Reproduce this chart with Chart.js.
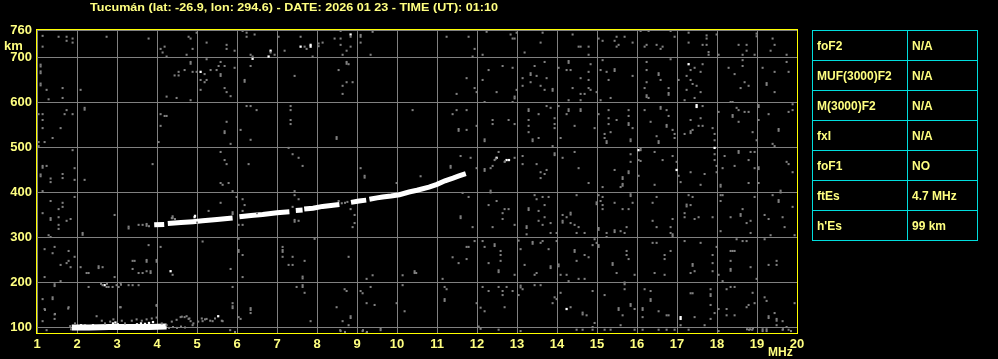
<!DOCTYPE html>
<html>
<head>
<meta charset="utf-8">
<script src="https://cdn.jsdelivr.net/npm/chart.js@4.4.1/dist/chart.umd.min.js"></script>
<style>
  html, body { margin:0; padding:0; background:#000; }
  body { width:998px; height:359px; position:relative; overflow:hidden; font-family:"Liberation Sans", Arial, sans-serif; font-weight:bold; color:#FFFF80; }
  #chart { position:absolute; left:0; top:0; }
  .lbl { position:absolute; white-space:nowrap; }
  #title { left:90px; top:1.5px; font-size:11px; line-height:11px; transform-origin:left top; }
  #km { left:4px; top:38.5px; font-size:13px; line-height:13px; }
  #mhz { left:768px; top:346px; font-size:12px; line-height:12px; }
  #params { position:absolute; left:812px; top:30px; border-collapse:collapse; font-size:12px; }
  #params td { border:1px solid #00DDDD; height:29px; padding:0 0 0 4px; vertical-align:middle; }
  #params td.k { width:90px; }
  #params td.v { width:65px; }
</style>
</head>
<body>
<canvas id="chart" width="998" height="359"></canvas>
<div class="lbl" id="title">Tucumán (lat: -26.9, lon: 294.6) - DATE: 2026 01 23 - TIME (UT): 01:10</div>
<div class="lbl" id="km">km</div>
<div class="lbl" id="mhz">MHz</div>
<table id="params"></table>
<script>
// ── DATA ──────────────────────────────────────────────
var xTicks = [1,2,3,4,5,6,7,8,9,10,11,12,13,14,15,16,17,18,19,20];
var yTicks = [100,200,300,400,500,600,700,760];

var paramNames  = ['foF2','MUF(3000)F2','M(3000)F2','fxI','foF1','ftEs',"h'Es"];
var paramValues = ['N/A','N/A','N/A','N/A','NO','4.7 MHz','99 km'];

// F-layer trace (freq MHz, virtual height km), null = gap
var fTrace = [
  [3.93,327],[4.18,328],[4.22,null],[4.27,330],[4.6,332],[4.9,334],[5.14,336],[5.5,339],[5.89,342],[5.95,null],
  [6.06,345],[6.35,348],[6.64,350],[7.0,354],[7.31,356],[7.38,null],[7.47,359],[7.64,360],[7.66,null],
  [7.68,362],[7.9,364],[8.14,368],[8.35,370],[8.56,372],[8.7,null],[8.85,377],[9.05,380],[9.23,382],[9.27,null],
  [9.31,384],[9.5,387],[9.64,389],[9.85,391],[10.06,394],[10.3,400],[10.5,404],[10.8,411],[11.0,417],
  [11.2,425],[11.4,431],[11.55,436],[11.72,441]
];

// sporadic E trace
var esTrace = [[1.87,99],[2.3,99],[2.8,100],[3.3,100],[3.8,100],[4.24,101]];

// strong echoes outside the traces
var whiteDots = [
  [6.84,714],[6.79,701],[6.39,696],[7.59,723],[7.84,727],[7.84,723],[8.84,750],[5.09,667],[17.29,684],
  [17.49,593],[17.49,589],[4.94,344],[4.95,347],[4.34,224],[2.69,193],[5.53,124],[12.49,476],[12.74,471],
  [12.8,471],[14.24,140],[16.04,493],[16.99,449],[17.94,498],[17.09,122],[17.09,118],[11.3,428],
  [2.1,104],[2.2,103],[2.4,104],[2.9,108],[2.96,110],[3.02,106],[3.5,106],[3.6,108],[3.7,107],
  [3.8,109],[3.9,111],[4.1,104],[4.2,104]
];

// weak echoes / noise
var greyDots = [
  [1.14,747],[1.14,723],[1.54,745],[1.74,745],[1.74,736],[1.89,741],[1.89,732],[2.74,745],[3.79,741],[4.79,745],
  [4.84,741],[4.99,754],[5.24,732],[5.74,727],[5.74,718],[5.94,714],[4.09,718],[4.19,723],[4.14,710],[4.24,701],
  [4.89,718],[4.74,705],[6.14,758],[6.24,754],[6.24,745],[6.44,750],[6.34,705],[6.39,701],[7.04,745],[6.84,710],
  [6.94,705],[7.19,714],[7.59,745],[7.69,723],[7.74,718],[8.04,730],[8.04,724],[8.14,732],[7.89,701],[8.44,741],
  [8.59,741],[8.59,727],[8.84,745],[8.84,723],[8.74,714],[8.64,705],[9.09,749],[9.09,745],[9.09,732],[9.39,756],
  [9.34,705],[8.59,758],
  [1.09,683],[1.09,679],[1.09,668],[1.09,664],[1.09,641],[1.09,637],[1.0,692],[1.24,627],[1.64,631],[1.64,609],
  [2.09,627],[1.29,606],[4.24,612],[4.49,609],[4.84,689],[4.84,685],[4.84,604],[4.99,667],[4.89,667],[4.69,671],
  [4.54,667],[4.44,659],[4.54,659],[5.19,662],[5.09,649],[5.24,649],[5.19,644],[5.09,627],[5.34,671],[5.49,671],
  [5.54,680],[5.59,689],[5.69,680],[5.59,662],[5.59,658],[5.94,676],[5.69,631],[5.74,622],[5.84,613],[6.19,649],
  [6.19,645],[6.34,680],[7.44,658],[8.74,689],[8.74,685],[8.79,684],[8.54,671],[8.74,644],[8.89,644],[8.64,636],
  [8.64,618],[5.24,695],
  [1.04,573],[1.14,573],[1.14,560],[1.14,542],[1.59,542],[1.74,582],[1.69,573],[1.89,573],[2.19,587],[2.19,583],
  [1.39,520],[1.19,511],[1.04,511],[1.04,502],[4.09,573],[4.19,569],[4.24,569],[4.09,547],[4.04,511],[6.24,591],
  [6.34,591],[6.49,582],[5.74,556],[5.69,535],[5.69,531],[5.84,507],[6.09,538],[6.34,516],[7.34,591],[7.34,582],
  [7.34,560],[7.34,551],[8.49,522],[8.49,518],[10.39,582],
  [1.89,493],[1.14,458],[1.14,454],[1.24,458],[1.09,439],[1.09,435],[1.34,430],[1.34,422],[1.64,440],[1.64,431],
  [1.94,453],[1.94,427],[2.19,427],[3.89,462],[5.59,489],[5.69,471],[5.74,462],[6.29,462],[7.29,498],[7.39,484],
  [7.54,476],[7.64,458],[9.09,453],[9.19,436],[9.19,432],
  [11.24,745],[11.79,745],[11.94,718],[11.89,701],[12.24,756],[12.14,705],[12.84,750],[12.89,741],[12.94,741],[12.99,754],
  [13.19,710],[13.64,754],[13.59,732],[14.39,750],[14.54,723],[14.59,723],[14.79,723],[14.79,705],[15.04,741],[15.14,736],
  [15.49,745],[15.44,736],[15.54,727],[15.49,723],[15.69,745],[15.89,732],[16.09,758],[16.29,758],[16.24,727],[16.19,723],
  [16.49,727],[16.59,718],[16.64,723],[16.84,758],[16.94,745],[17.29,754],[17.29,732],[17.64,727],[17.74,727],[17.74,748],
  [17.74,741],[17.79,711],[17.79,705],[17.99,750],[18.04,705],[18.54,727],[18.74,727],[18.74,714],[18.64,705],[18.94,705],
  [18.99,752],[18.99,746],[19.39,741],[19.44,727],[19.34,714],[19.74,705],
  [11.74,653],[11.49,618],[11.94,631],[11.99,622],[12.14,649],[12.29,671],[12.49,622],[12.64,680],[12.89,676],[12.94,612],
  [12.94,608],[12.89,600],[12.19,600],[12.99,627],[13.14,653],[13.14,636],[13.34,664],[13.34,660],[13.34,644],[13.44,680],
  [13.49,658],[13.59,636],[13.69,627],[13.74,653],[13.69,689],[13.89,629],[13.89,625],[14.04,676],[14.24,671],[14.34,671],
  [14.29,691],[14.29,687],[14.39,631],[14.59,653],[14.59,618],[14.29,604],[14.59,604],[14.79,667],[14.84,684],[14.79,649],
  [14.84,627],[14.79,631],[14.69,618],[14.99,622],[15.09,671],[15.24,667],[15.44,673],[15.44,669],[15.29,649],[15.14,693],
  [15.09,604],[15.34,609],[15.89,658],[16.24,689],[16.24,671],[16.24,644],[16.19,631],[16.24,615],[16.24,611],[16.29,609],
  [16.54,664],[16.54,660],[16.59,649],[16.79,631],[16.79,620],[16.79,616],[16.84,695],[17.04,649],[17.34,671],[17.44,676],
  [17.24,658],[17.34,649],[17.39,640],[17.24,627],[17.49,636],[17.59,622],[17.19,604],[17.44,609],[17.64,684],[17.59,667],
  [18.29,676],[18.44,662],[18.69,644],[18.79,636],[18.59,631],[18.64,680],[18.64,693],[19.24,642],[19.24,638],[19.14,676],
  [19.44,667],[19.44,622],[19.79,667],[19.74,689],
  [11.49,582],[11.39,573],[11.74,582],[11.54,540],[11.54,536],[11.74,538],[11.99,547],[12.19,517],[12.19,513],[12.39,560],
  [12.39,551],[12.79,560],[12.94,551],[13.29,584],[13.29,580],[13.29,560],[13.29,547],[13.29,533],[13.39,517],[13.39,513],
  [13.54,573],[13.74,591],[13.84,587],[13.54,520],[13.94,564],[13.94,551],[13.94,542],[13.89,502],[14.04,591],[14.09,520],
  [14.29,584],[14.29,580],[14.24,573],[14.59,584],[14.59,580],[14.44,547],[14.94,542],[15.04,573],[15.29,582],[15.29,564],
  [15.29,551],[15.19,529],[15.19,520],[15.24,513],[15.24,509],[15.34,533],[15.49,560],[15.79,582],[15.79,569],[15.79,553],
  [15.79,549],[15.89,542],[15.84,517],[15.84,513],[16.19,582],[16.34,556],[16.49,524],[16.54,513],[16.54,509],[16.59,589],
  [16.59,585],[16.74,582],[16.79,569],[16.74,549],[16.74,545],[16.89,538],[16.94,529],[16.94,520],[17.64,591],[17.34,560],
  [17.59,564],[17.54,547],[17.64,547],[17.19,529],[17.34,535],[17.34,531],[17.39,538],[17.89,542],[17.94,529],[17.94,515],
  [18.04,578],[18.34,600],[18.39,600],[18.49,587],[18.54,582],[18.39,571],[18.39,567],[18.69,578],[18.79,578],[18.54,556],
  [19.04,593],[19.04,589],[19.04,560],[18.89,533],[18.99,515],[19.29,573],[19.54,540],[19.54,536],[19.79,578],[19.89,582],
  [19.89,595],[19.39,507],[19.44,502],
  [10.59,435],[11.34,458],[11.34,454],[11.59,480],[11.84,476],[12.44,471],[12.34,453],[12.39,458],[12.19,451],[12.19,447],
  [11.99,453],[12.54,489],[12.69,467],[12.94,476],[13.14,480],[13.14,462],[13.49,462],[13.59,444],[13.69,440],[13.74,449],
  [13.59,431],[13.94,486],[13.94,482],[14.14,476],[14.44,489],[14.54,453],[15.44,449],[15.64,433],[15.64,429],[15.79,446],
  [15.79,442],[15.84,484],[15.84,467],[16.09,497],[16.09,493],[16.04,471],[16.09,469],[16.04,436],[16.44,489],[16.64,471],
  [16.89,480],[16.99,467],[17.04,436],[17.34,444],[17.69,440],[17.94,484],[17.94,471],[17.99,458],[17.99,444],[18.19,480],
  [18.14,453],[18.44,458],[18.54,491],[18.54,487],[18.84,489],[18.94,489],[18.79,471],[18.94,453],[19.04,455],[19.04,451],
  [19.74,467],[19.79,462],[19.89,444],[12.47,474],[12.7,468],
  [1.14,402],[1.34,380],[1.54,362],[1.64,376],[1.64,367],[1.54,344],[1.74,336],[1.84,340],[1.34,342],[1.34,338],
  [1.54,327],[1.54,318],[1.29,304],[1.34,300],[1.14,353],[1.94,389],[2.14,309],[2.14,305],[2.94,349],[3.29,323],
  [3.29,319],[3.54,327],[3.64,327],[3.74,329],[3.74,325],[3.8,324],[4.37,342],[4.45,340],[5.0,332],[6.5,353],
  [4.39,346],[4.39,342],[5.29,358],[5.59,376],[5.59,420],[5.64,416],[5.79,420],[5.89,402],[5.99,389],[6.14,384],
  [6.19,371],[6.14,358],[6.04,327],[6.14,327],[5.89,355],[5.89,351],[7.44,402],[7.44,393],[7.54,384],[7.39,367],
  [7.44,338],[7.44,334],[7.54,336],[8.54,380],[8.84,362],[8.94,349],[8.94,331],[8.89,322],[9.99,420],[7.94,296],
  [8.62,375],[8.7,376],[8.76,378],
  [1.19,273],[1.39,264],[1.44,278],[1.79,269],[1.94,256],[1.79,247],[1.74,242],[1.59,238],[1.84,233],[1.19,211],
  [1.59,202],[2.09,233],[2.24,220],[2.54,235],[2.54,231],[2.64,233],[3.39,247],[3.44,247],[3.74,249],[3.74,245],
  [3.79,282],[3.99,249],[3.99,245],[4.09,278],[3.39,229],[3.54,220],[3.64,220],[3.74,224],[3.84,224],[3.84,220],
  [4.39,216],[2.29,220],[2.94,211],[2.64,193],[2.79,189],[2.89,189],[2.99,193],[3.09,198],[3.04,189],[3.29,193],
  [3.39,193],[3.54,193],[2.6,196],[2.75,196],[3.1,194],[5.14,290],[6.04,271],[6.04,267],[6.14,260],[6.04,296],
  [7.14,278],[7.14,271],[7.14,267],[7.14,256],[7.39,256],[7.29,238],[7.39,238],[7.69,247],[5.84,229],[6.14,211],
  [7.64,212],[7.64,208],[7.64,193],[8.79,256],[9.39,215],[9.24,207],[10.14,215],[10.44,224],[10.44,220],
  [1.44,195],[1.44,191],[1.14,162],[1.19,140],[1.39,162],[1.39,166],[1.14,113],[1.44,128],[1.44,118],[1.79,144],
  [2.29,189],[2.74,189],[3.09,144],[3.99,149],[5.89,189],[5.89,153],[5.89,146],[5.89,142],[6.34,142],[6.34,138],
  [6.34,131],[7.49,189],[7.64,189],[7.69,176],[8.49,144],[8.69,184],[8.74,180],[8.64,113],[8.79,104],[8.84,124],
  [8.84,120],[9.09,180],[9.14,175],[9.24,153],[9.44,149],[9.34,189],[9.99,153],[10.14,193],[10.19,135],[7.84,113],
  [9.59,97],[9.59,93],[8.59,91],[9.14,91],[9.24,87],[6.04,122],[6.09,118],[5.64,113],[1.24,93],[5.83,93],
  [5.95,89],[8.58,93],[8.7,89],[9.15,93],[9.25,89],
  [1.83,102],[1.95,108],[2.49,124],[2.62,114],[2.7,108],[2.83,112],[2.91,117],[3.12,114],[3.2,108],[3.37,114],
  [3.49,117],[3.62,114],[3.74,117],[3.87,119],[3.99,121],[4.12,108],[4.24,104],[4.37,112],[4.49,116],[4.62,123],
  [4.74,124],[4.81,119],[4.91,108],[5.03,112],[5.12,119],[5.2,117],[5.33,114],[5.45,119],[5.62,114],[1.2,138],
  [1.45,129],[1.78,141],[3.08,144],[3.99,147],[4.3,98],[4.4,100],[4.5,98],[4.6,101],[4.7,99],[1.85,95],
  [4.59,122],[4.69,122],[4.79,118],[4.84,113],[4.89,104],[5.14,113],[5.24,118],[5.39,113],
  [11.64,398],[11.79,389],[11.59,346],[11.59,342],[11.89,322],[12.34,403],[12.34,399],[12.29,371],[12.49,380],[12.39,322],
  [12.64,353],[12.69,362],[12.79,362],[12.64,340],[12.94,327],[13.44,393],[13.64,389],[13.49,384],[13.79,389],[13.69,371],
  [13.29,364],[13.29,360],[13.54,358],[13.69,344],[13.54,336],[13.64,327],[13.84,331],[13.24,324],[13.24,320],[13.24,306],
  [13.84,309],[13.99,309],[14.14,349],[14.34,354],[14.34,350],[14.24,344],[14.14,336],[14.14,332],[14.34,331],[14.44,327],
  [14.54,322],[14.49,309],[14.69,309],[14.49,393],[14.79,420],[15.04,393],[15.14,389],[15.09,380],[15.14,371],[15.14,362],
  [14.99,377],[14.99,373],[15.04,320],[15.04,316],[15.24,309],[15.24,300],[15.44,315],[15.44,311],[15.59,313],[15.74,322],
  [15.69,309],[15.64,362],[15.79,362],[15.89,376],[15.44,376],[15.59,411],[15.64,418],[15.64,414],[15.84,395],[15.84,391],
  [15.14,411],[16.39,336],[16.49,322],[16.89,340],[16.84,322],[16.89,306],[16.89,302],[16.84,309],[16.49,389],[16.39,376],
  [16.44,416],[17.19,353],[17.19,344],[17.24,372],[17.24,368],[17.34,371],[17.44,340],[17.54,344],[17.39,389],[17.29,393],
  [17.59,416],[17.09,422],[17.89,344],[18.09,416],[18.09,412],[18.09,393],[18.14,393],[18.09,380],[18.09,313],[18.34,344],
  [18.59,351],[18.59,347],[18.64,362],[18.74,331],[18.84,336],[18.84,309],[18.79,420],[19.04,420],[18.94,389],[19.19,349],
  [19.29,340],[19.39,393],[19.59,403],[19.59,399],[19.54,382],[19.54,378],[19.64,344],[19.69,322],[19.89,367],[19.94,304],
  [19.34,304],
  [12.14,291],[12.19,278],[12.44,284],[12.44,280],[12.29,242],[12.59,269],[12.59,260],[12.59,247],[12.54,226],[12.54,222],
  [12.94,216],[11.74,278],[11.79,278],[11.39,255],[11.54,242],[11.74,251],[11.94,291],[11.14,207],[10.48,220],[13.09,273],
  [13.19,238],[13.39,289],[13.39,285],[13.59,287],[13.64,291],[13.49,220],[13.44,216],[13.79,273],[13.84,235],[13.84,231],
  [13.04,292],[13.99,291],[14.04,239],[14.04,235],[14.09,216],[14.24,216],[14.29,202],[14.54,207],[14.69,207],[14.44,271],
  [14.44,267],[14.49,247],[14.69,260],[14.79,255],[14.89,282],[14.99,287],[15.04,282],[15.04,278],[14.94,295],[15.39,242],
  [15.39,238],[15.49,220],[15.74,269],[15.74,260],[15.79,251],[15.94,216],[16.39,287],[16.49,287],[16.44,220],[16.69,260],
  [16.69,251],[16.84,269],[16.69,216],[17.19,291],[17.39,240],[17.39,236],[17.44,224],[17.34,220],[17.59,287],[17.89,260],
  [17.89,242],[17.89,224],[17.99,278],[18.34,269],[18.39,269],[18.44,269],[18.34,247],[18.34,229],[18.34,225],[18.04,216],
  [18.14,202],[18.84,233],[18.99,207],[18.49,295],[18.64,291],[18.74,291],[19.29,238],[19.49,247],[19.49,238],[19.19,295],
  [11.19,189],[11.24,184],[11.19,162],[11.19,158],[11.99,153],[12.09,143],[12.19,135],[12.14,189],[12.29,180],[12.54,189],
  [12.64,180],[12.74,189],[12.64,171],[12.89,180],[12.69,144],[12.04,101],[12.09,96],[13.09,192],[13.09,188],[13.14,184],
  [13.04,171],[13.44,193],[13.59,193],[13.94,166],[13.99,162],[13.89,153],[14.34,144],[14.09,176],[14.64,132],[14.64,128],
  [14.74,126],[14.89,180],[15.19,171],[14.94,109],[14.89,100],[15.54,142],[15.54,138],[15.64,126],[15.69,184],[15.69,199],
  [15.69,195],[15.84,151],[15.84,147],[15.94,140],[15.59,104],[16.19,184],[16.34,180],[16.34,162],[16.34,158],[16.14,142],
  [16.14,138],[16.14,122],[16.54,135],[16.74,126],[16.79,126],[17.09,104],[17.44,122],[17.34,175],[17.39,175],[17.84,184],
  [17.84,173],[17.84,169],[17.84,149],[17.84,118],[17.94,131],[17.69,104],[18.04,140],[18.24,140],[18.24,126],[18.44,126],
  [18.24,184],[18.34,189],[18.44,189],[18.74,144],[18.79,149],[18.89,176],[18.94,153],[19.19,166],[19.24,158],[19.29,124],
  [19.29,120],[19.44,131],[19.49,118],[19.49,114],[19.49,104],[19.64,113],[19.74,100],[19.94,153],
  [12.54,94],[13.09,91],[14.49,94],[14.64,94],[14.89,94],[15.19,94],[15.34,94],[15.94,94],[16.14,94],[16.54,94],
  [16.74,94],[16.94,94],[17.29,94],[18.04,91],[18.8,94],[18.88,94],[19.14,95],[19.14,91],[19.24,95],[19.24,91],
  [19.64,94],[19.79,94],[18.75,95],[18.83,95],[18.9,97],[19.65,95],[19.85,91]
];

// ── PAGE TEXT ─────────────────────────────────────────
var table = document.getElementById('params');
paramNames.forEach(function(n, i){
  var tr = document.createElement('tr');
  tr.innerHTML = '<td class="k">' + n + '</td><td class="v">' + paramValues[i] + '</td>';
  table.appendChild(tr);
});
var title = document.getElementById('title');
title.style.transform = 'scaleX(' + (408 / title.getBoundingClientRect().width) + ')';

// ── CHART ─────────────────────────────────────────────
var YELLOW = '#FFFF80', GREY = '#808080';
function pts(arr){ return arr.map(function(p){ return {x:p[0], y:p[1]}; }); }

var framePlugin = {
  id:'frame',
  afterDraw:function(chart){
    var a = chart.chartArea, ctx = chart.ctx;
    ctx.save();
    ctx.strokeStyle = '#FFFF00';
    ctx.lineWidth = 1;
    ctx.strokeRect(a.left - 0.5, a.top - 0.5, a.right - a.left + 1, a.bottom - a.top + 1);
    ctx.restore();
  }
};

var tickFont = { family:'"Liberation Sans", Arial, sans-serif', size:13, weight:'bold' };

new Chart(document.getElementById('chart'), {
  type:'scatter',
  data:{ datasets:[
    { data:pts(greyDots), backgroundColor:GREY, borderWidth:0, pointStyle:'rect', pointRadius:1.45 },
    { data:pts(esTrace), showLine:true, borderColor:'#FFFFFF', borderWidth:6, pointRadius:0, borderCapStyle:'butt' },
    { data:pts(fTrace), showLine:true, borderColor:'#FFFFFF', borderWidth:5, pointRadius:0, borderCapStyle:'butt', spanGaps:false },
    { data:pts(whiteDots), backgroundColor:'#FFFFFF', borderWidth:0, pointStyle:'rect', pointRadius:1.6 }
  ]},
  options:{
    responsive:false, animation:false, devicePixelRatio:1,
    layout:{ padding:{ left:0, top:30, right:201, bottom:0 } },
    plugins:{ legend:{ display:false }, tooltip:{ enabled:false } },
    scales:{
      x:{
        type:'linear', min:1, max:20,
        afterFit:function(s){ s.height = 26; },
        afterBuildTicks:function(s){ s.ticks = xTicks.map(function(v){ return {value:v}; }); },
        ticks:{ color:YELLOW, font:tickFont, padding:4, maxRotation:0, autoSkip:false },
        grid:{ color:GREY, drawTicks:false },
        border:{ display:false }
      },
      y:{
        type:'linear', min:86.7, max:760,
        afterFit:function(s){ s.width = 37; },
        afterBuildTicks:function(s){ s.ticks = yTicks.map(function(v){ return {value:v}; }); },
        ticks:{ color:YELLOW, font:tickFont, padding:5, autoSkip:false },
        grid:{ color:GREY, drawTicks:false },
        border:{ display:false }
      }
    }
  },
  plugins:[framePlugin]
});
</script>
</body>
</html>
